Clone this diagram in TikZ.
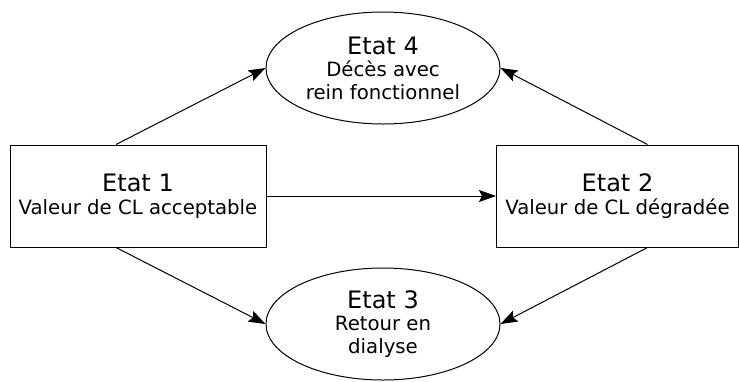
\documentclass[tikz,border=0pt]{standalone}
\usepackage{fontspec}
\setmainfont{DejaVu Sans}
\usetikzlibrary{shapes.geometric,arrows.meta,calc}
\newcommand\etatsize{\fontsize{24}{27}\selectfont}
\begin{document}
\begin{tikzpicture}[x=1pt,y=-1pt,
  statebox/.style={draw,line width=1pt,rectangle,minimum height=102pt,inner sep=0pt,align=center,font=\fontsize{19.7}{23}\selectfont},
  stateell/.style={draw,line width=1pt,ellipse,minimum width=234pt,minimum height=112pt,inner sep=0pt,align=center,font=\fontsize{19.7}{22.5}\selectfont},
  conn/.style={line width=1pt,-{Stealth[length=17pt,width=12pt,inset=3pt]}}]
\useasboundingbox (0,0) rectangle (739,381);
\node[statebox,minimum width=256pt] (b1) at (138,196) {{\etatsize Etat 1}\\Valeur de CL acceptable};
\node[statebox,minimum width=242pt] (b2) at (617.5,196) {{\etatsize Etat 2}\\Valeur de CL dégradée};
\node[stateell] (e4) at (383,68) {{\etatsize Etat 4}\\Décès avec\\rein fonctionnel};
\node[stateell] (e3) at (383,324) {{\etatsize Etat 3}\\Retour en\\dialyse};
\draw[conn] ([xshift=-22pt]b1.north) -- (e4.west);
\draw[conn] ([xshift=30pt]b2.north) -- (e4.east);
\draw[conn] (b1.east) -- (b2.west);
\draw[conn] ([xshift=-22pt]b1.south) -- (e3.west);
\draw[conn] ([xshift=30pt]b2.south) -- (e3.east);
\end{tikzpicture}
\end{document}
